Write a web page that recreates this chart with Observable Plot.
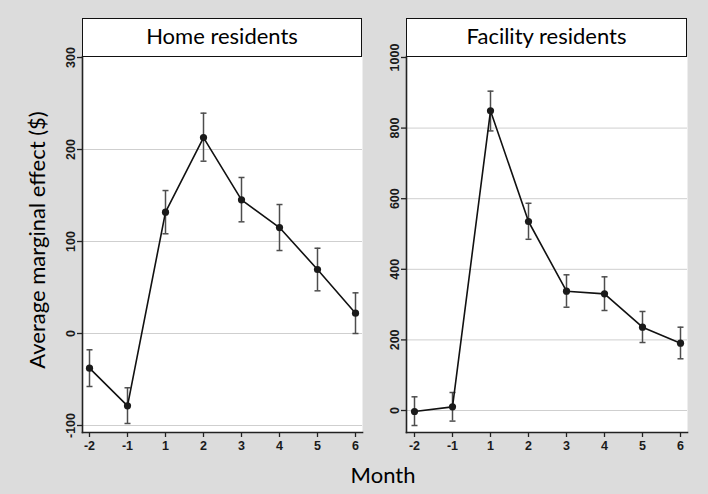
<!DOCTYPE html>
<html>
<head>
<meta charset="utf-8">
<script src="https://cdn.jsdelivr.net/npm/d3@7"></script>
<script src="https://cdn.jsdelivr.net/npm/@observablehq/plot@0.6"></script>
<style>
  body { margin: 0; background: #dcdcdc; }
  #wrap { position: relative; width: 708px; height: 494px; background: #dcdcdc; overflow: hidden; }
  .panel { position: absolute; top: 18px; }
  .hdr { position: absolute; top: 18px; height: 39px; box-sizing: border-box; border: 1.5px solid #111; background: #fff;
         font-family: Lato, "Open Sans", sans-serif; font-size: 22px; line-height: 1; text-align: center; padding-top: 6px; color: #000; }
  .ttl { position: absolute; font-family: Lato, "Open Sans", sans-serif; font-size: 22px; line-height: 1; white-space: nowrap; color: #000; }
</style>
</head>
<body>
<div id="wrap"></div>
<script>
// ---- data ----
const months = [-2, -1, 1, 2, 3, 4, 5, 6];
const homeEst = [-37.7, -78.6, 131.9, 213.0, 145.3, 115.2, 69.6, 22.1];
const homeLo  = [-57.6, -97.8, 108.4, 187.3, 121.4, 90.2, 46.4, 0.0];
const homeHi  = [-17.7, -59.0, 155.4, 239.5, 169.6, 140.2, 92.7, 44.2];
const facEst  = [-2.8, 10.4, 849.0, 535.4, 338.0, 330.5, 236.0, 190.7];
const facLo   = [-42.5, -30.0, 792.0, 485.0, 292.6, 283.3, 192.6, 146.5];
const facHi   = [38.8, 51.0, 904.6, 587.0, 384.4, 378.7, 280.5, 236.0];
const homeTicks = [-100, 0, 100, 200, 300];
const facTicks  = [0, 200, 400, 600, 800, 1000];
const panelTitles = ["Home residents", "Facility residents"];
const yTitle = "Average marginal effect ($)";
const xTitle = "Month";

const wrap = document.getElementById("wrap");

// horizontal-line symbol for error bar caps
const capSymbol = {
  draw(ctx, size) {
    const w = Math.sqrt(size / Math.PI);
    ctx.moveTo(-w, 0);
    ctx.lineTo(w, 0);
  }
};

function panel(est, lo, hi, ticks, domain, width, marginRight) {
  const data = months.map((m, i) => ({m, est: est[i], lo: lo[i], hi: hi[i]}));
  const err = {stroke: "#4d4d4d", strokeWidth: 1.5};
  return Plot.plot({
    width, height: 452,
    marginTop: 38, marginBottom: 38, marginLeft: 82, marginRight,
    style: {background: "transparent", fontFamily: "'Liberation Sans', Arial, sans-serif", fontSize: "12.5px", fontWeight: "bold", color: "#1a1a1a", overflow: "visible"},
    x: {type: "point", domain: months, padding: 0.184, label: null},
    y: {domain, ticks, label: null},
    marks: [
      Plot.frame({fill: "white", stroke: null}),
      Plot.gridY(ticks.slice(0, -1), {stroke: "#cfcfcf", strokeOpacity: 1, strokeWidth: 1}),
      Plot.ruleX(data, {x: "m", y1: "lo", y2: "hi", ...err}),
      Plot.dot(data, {x: "m", y: "lo", symbol: capSymbol, r: 3, fill: "none", ...err}),
      Plot.dot(data, {x: "m", y: "hi", symbol: capSymbol, r: 3, fill: "none", ...err}),
      Plot.line(data, {x: "m", y: "est", stroke: "#111", strokeWidth: 1.6}),
      Plot.dot(data, {x: "m", y: "est", r: 3.6, fill: "#1a1a1a", stroke: null}),
      Plot.frame({anchor: "left", stroke: "#222", strokeWidth: 1.6}),
      Plot.frame({anchor: "bottom", stroke: "#222", strokeWidth: 1.6}),
      Plot.axisX({tickSize: 5, tickPadding: 4, tickFormat: d => String(d), stroke: "#222", strokeWidth: 1.3, label: null}),
      Plot.axisY({ticks, tickSize: 5, tickPadding: 3, tickRotate: -90, textAnchor: "middle", lineAnchor: "bottom",
                  tickFormat: d => String(d), stroke: "#222", strokeWidth: 1.3, label: null})
    ]
  });
}

const left = panel(homeEst, homeLo, homeHi, homeTicks, [-107.6, 301.1], 362, 0);
left.classList.add("panel");
left.style.left = "0px";
wrap.appendChild(left);

const right = panel(facEst, facLo, facHi, facTicks, [-62.3, 1002.8], 384, 21);
right.classList.add("panel");
right.style.left = "324px";
wrap.appendChild(right);

const hdrPos = [[82, 280], [406, 281]];
panelTitles.forEach((t, i) => {
  const d = document.createElement("div");
  d.className = "hdr";
  d.style.left = hdrPos[i][0] + "px";
  d.style.width = hdrPos[i][1] + "px";
  d.textContent = t;
  wrap.appendChild(d);
});

const yt = document.createElement("div");
yt.className = "ttl";
yt.textContent = yTitle;
yt.style.left = "36.5px";
yt.style.top = "240px";
yt.style.transform = "translate(-50%, -50%) rotate(-90deg)";
wrap.appendChild(yt);

const xt = document.createElement("div");
xt.className = "ttl";
xt.textContent = xTitle;
xt.style.left = "383px";
xt.style.top = "463.5px";
xt.style.transform = "translateX(-50%)";
wrap.appendChild(xt);
</script>
</body>
</html>
